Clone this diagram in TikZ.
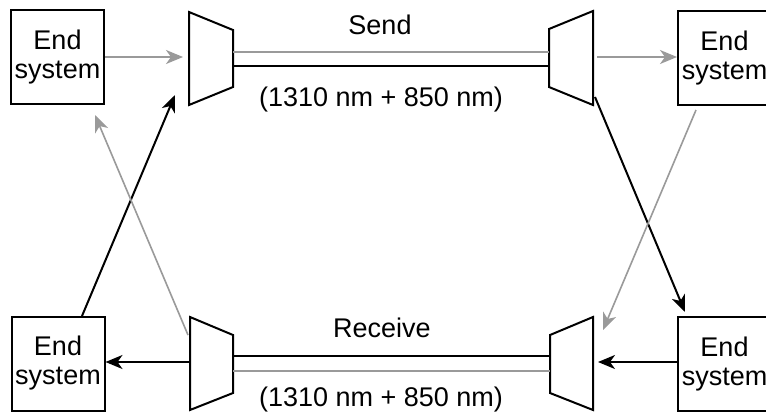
\documentclass[tikz,border=0pt]{standalone}
\usepackage{fontspec}
\setmainfont{Liberation Sans}
\usetikzlibrary{arrows.meta}
\definecolor{lgray}{HTML}{9A9A9A}
\tikzset{
  endsys/.style={draw=black, line width=2pt, fill=white, minimum width=93pt, minimum height=94pt, inner sep=0pt, align=center, font=\fontsize{27}{29}\selectfont},
  lbl/.style={inner sep=0pt, font=\fontsize{27}{29}\selectfont},
  mux/.style={draw=black, line width=2pt, line join=miter, fill=white},
  tipb/.style={-{Stealth[length=17pt,width=14pt,inset=5pt]}},
  blk/.style={tipb, draw=black, line width=2pt},
  gry/.style={tipb, draw=lgray, line width=1.6pt},
  fibk/.style={draw=black, line width=2.6pt},
  figr/.style={draw=lgray, line width=1.6pt}
}
\begin{document}
\begin{tikzpicture}[x=1pt,y=-1pt]
\clip (0,0) rectangle (766,416);
\fill[white] (0,0) rectangle (766,416);
% end systems
\node[endsys] (es1) at (57.5,57) {End\\system};
\node[endsys] (es2) at (724.5,58) {End\\system};
\node[endsys] (es3) at (58,363.5) {End\\system};
\node[endsys] (es4) at (724.5,364) {End\\system};
% multiplexers (trapezoids)
\draw[mux] (189,12) -- (233,30) -- (233,87) -- (189,105) -- cycle;
\draw[mux] (593,11) -- (549,29) -- (549,87) -- (593,105) -- cycle;
\draw[mux] (190,317) -- (233,335) -- (233,393) -- (190,410) -- cycle;
\draw[mux] (593,317) -- (550,335) -- (550,393) -- (593,410) -- cycle;
% named ports
\coordinate (m1in) at (183,57);
\coordinate (m1bot) at (175,95);
\coordinate (m1r) at (233,52);
\coordinate (m1rb) at (233,66);
\coordinate (m2l) at (549,52);
\coordinate (m2lb) at (549,66);
\coordinate (m2out) at (597,57);
\coordinate (m2bot) at (595,97);
\coordinate (m3out) at (189,362);
\coordinate (m3top) at (188,335);
\coordinate (m3r) at (233,356);
\coordinate (m3rg) at (233,371);
\coordinate (m4l) at (550,356);
\coordinate (m4lg) at (550,371);
\coordinate (m4in) at (598,362);
\coordinate (m4top) at (603,330);
\coordinate (es1bot) at (95,115);
\coordinate (es2bot) at (696,110);
\coordinate (es3top) at (82,316);
\coordinate (es4top) at (685,312);
% fibres
\draw[figr] (m1r) -- (m2l);
\draw[fibk] (m1rb) -- (m2lb);
\draw[fibk] (m3r) -- (m4l);
\draw[figr] (m3rg) -- (m4lg);
% arrows
\draw[gry] (es1.east |- m1in) -- (m1in);
\draw[gry] (m2out) -- (es2.west |- m2out);
\draw[blk] (m3out) -- (es3.east |- m3out);
\draw[blk] (es4.west |- m4in) -- (m4in);
\draw[blk] (es3top) -- (m1bot);
\draw[gry] (m3top) -- (es1bot);
\draw[blk] (m2bot) -- (es4top);
\draw[gry] (es2bot) -- (m4top);
% labels
\node[lbl] (send) at (380,25) {Send};
\node[lbl] (wl1) at (381,100) {(1310 nm + 850 nm)};
\node[lbl] (recv) at (382,328) {Receive};
\node[lbl] (wl2) at (381,400) {(1310 nm + 850 nm)};
\end{tikzpicture}
\end{document}
